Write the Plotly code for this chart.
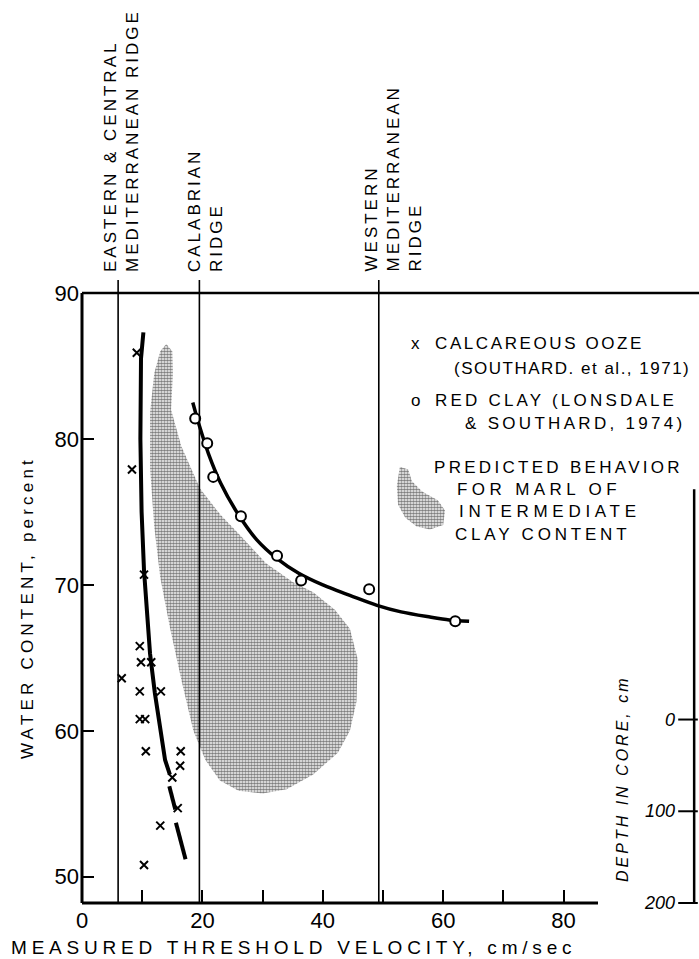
import plotly.graph_objects as go

# ---------------- data ----------------
ooze_x = [9.1, 8.3, 10.3, 9.6, 9.8, 11.5, 6.6, 9.6, 13.1, 9.6, 10.5, 10.6, 16.4, 16.3, 15.0, 15.9, 13.0, 10.3]
ooze_y = [85.9, 77.9, 70.7, 65.8, 64.7, 64.7, 63.6, 62.7, 62.7, 60.8, 60.8, 58.6, 58.6, 57.6, 56.8, 54.7, 53.5, 50.8]

ooze_curve_x = [10.2, 9.8, 9.7, 9.9, 10.3, 10.8, 11.3, 12.1, 13.0, 13.8, 14.6, None, 14.5, 15.1, 15.5, None, 15.6, 16.6, 17.2]
ooze_curve_y = [87.3, 85.5, 80, 75, 71, 68.3, 65.3, 62.6, 60.3, 58.0, 57.0, None, 56.2, 55.3, 54.6, None, 53.7, 52.0, 51.2]

clay_x = [18.8, 20.8, 21.8, 26.4, 32.4, 36.4, 47.7, 62.0]
clay_y = [81.4, 79.7, 77.4, 74.7, 72.0, 70.3, 69.7, 67.5]

clay_curve_x = [18.4, 19.5, 21.0, 23.0, 26.0, 29.0, 32.4, 36.0, 40.0, 45.0, 49.0, 53.0, 57.8, 61.0, 64.3]
clay_curve_y = [82.5, 80.9, 79.0, 77.0, 74.8, 73.1, 71.8, 70.8, 70.0, 69.2, 68.6, 68.15, 67.8, 67.6, 67.5]

marl_x = [14.0, 15.0, 15.1, 14.8, 16.5, 19.6, 23.0, 26.5, 30.5, 35.0, 38.4, 42.0, 44.5, 45.8, 45.6, 44.5,
          42.5, 38.4, 34.0, 30.0, 26.0, 22.9, 20.5, 18.5, 16.5, 14.6, 13.0, 12.0, 11.3, 11.3, 12.0, 13.0]
marl_y = [86.5, 86.0, 84.5, 82.0, 79.5, 76.6, 74.8, 73.3, 71.5, 70.2, 69.5, 68.3, 67.0, 64.9, 62.0, 60.0,
          58.5, 57.0, 56.0, 55.7, 55.9, 56.6, 58.0, 60.0, 63.5, 67.1, 70.5, 74.0, 78.0, 81.8, 84.5, 86.0]

marl_icon_x = [52.8, 54.2, 54.8, 56.5, 59.1, 60.3, 60.0, 57.8, 55.6, 53.7, 52.5, 52.3]
marl_icon_y = [78.1, 77.9, 77.1, 76.4, 75.8, 75.1, 74.1, 73.8, 74.0, 74.6, 75.5, 76.8]

ridge_x = [6.0, 19.5, 49.3]
ridge_labels = ["EASTERN &amp; CENTRAL<br>MEDITERRANEAN RIDGE", "CALABRIAN<br>RIDGE",
                "WESTERN<br>MEDITERRANEAN<br>RIDGE"]

x_ticks = [0, 10, 20, 30, 40, 50, 60, 70, 80]
x_ticktext = ["0", "", "20", "", "40", "", "60", "", "80"]
y_ticks = [50, 60, 70, 80, 90]
depth_ticks = [0, 100, 200]
depth_ticktext = ["0", "100", "200"]

# ---------------- layout geometry ----------------
W, H = 699, 959
L, R, T, B = 82, 3, 293, 56
PW = W - L - R
PH = H - T - B
XMAX = PW / 6.02
YMIN, YMAX = 48.2, 90.0
DEPTH_RANGE = [200, -465]

def px2x(px):
    return (px - L) / 6.02

def px2p(px):
    return (px - L) / PW

def py2p(py):
    return (H - B - py) / PH

FONT = "Liberation Sans"
def spaced(t, ls=3):
    return f'<span style="letter-spacing:{ls}px">{t}</span>'

PATTERN = dict(shape=".", size=3, solidity=0.62, fgcolor="black", bgcolor="white")

fig = go.Figure()

fig.add_trace(go.Scatter(x=marl_x, y=marl_y, fill="toself", mode="lines",
                         line=dict(width=0, color="rgba(0,0,0,0)"), fillcolor="rgba(0,0,0,0)",
                         fillpattern=PATTERN, hoverinfo="skip", showlegend=False))
fig.add_trace(go.Scatter(x=marl_icon_x, y=marl_icon_y, fill="toself", mode="lines",
                         line=dict(width=0, color="rgba(0,0,0,0)"), fillcolor="rgba(0,0,0,0)",
                         fillpattern=PATTERN, hoverinfo="skip", showlegend=False))

fig.add_trace(go.Scatter(x=ooze_curve_x, y=ooze_curve_y, mode="lines",
                         line=dict(color="black", width=4), showlegend=False))
fig.add_trace(go.Scatter(x=clay_curve_x, y=clay_curve_y, mode="lines",
                         line=dict(color="black", width=3.5, shape="spline", smoothing=0.8), showlegend=False))
fig.add_trace(go.Scatter(x=ooze_x, y=ooze_y, mode="markers",
                         marker=dict(symbol="x-thin", size=8, line=dict(color="black", width=2)),
                         showlegend=False))
fig.add_trace(go.Scatter(x=clay_x, y=clay_y, mode="markers",
                         marker=dict(symbol="circle", size=10, color="white", line=dict(color="black", width=2)),
                         showlegend=False))
# depth-in-core tick marks, placed through the depth axis scale
fig.add_trace(go.Scatter(x=[px2x(688)] * len(depth_ticks), y=depth_ticks, yaxis="y2", mode="markers",
                         marker=dict(symbol="line-ew", size=14, line=dict(color="black", width=2)),
                         cliponaxis=False, hoverinfo="skip", showlegend=False))

shapes = []
for rx in ridge_x:
    shapes.append(dict(type="line", xref="x", yref="paper", x0=rx, x1=rx, y0=0, y1=1 + 13 / PH,
                       line=dict(color="black", width=1.6)))
shapes.append(dict(type="line", xref="paper", yref="paper", x0=0, x1=1.02, y0=1, y1=1,
                   line=dict(color="black", width=2.5)))
shapes.append(dict(type="line", xref="paper", yref="paper", x0=0, x1=0, y0=0, y1=1,
                   line=dict(color="black", width=3)))
shapes.append(dict(type="line", xref="x", yref="paper", x0=0, x1=px2x(598), y0=0, y1=0,
                   line=dict(color="black", width=3)))
shapes.append(dict(type="line", xref="paper", yref="y2", x0=0.997, x1=0.997, y0=-251, y1=DEPTH_RANGE[0],
                   line=dict(color="black", width=2.5)))

ann = []
ridge_label_px = [99, 183, 360]
for lab, lx in zip(ridge_labels, ridge_label_px):
    ann.append(dict(text=spaced(lab, 3.0), xref="paper", yref="paper", x=px2p(lx), y=py2p(274),
                    xanchor="left", yanchor="bottom", textangle=-90, align="left", showarrow=False,
                    font=dict(family=FONT, size=17, color="black")))

# (text, x px, y px, anchor, letter spacing)
legend_lines = [
    ("x", 415, 343, "center", 0),
    ("CALCAREOUS OOZE", 433, 343, "left", 2.6),
    ("(SOUTHARD. et al., 1971)", 452, 368, "left", 1.5),
    ("o", 415, 400, "center", 0),
    ("RED CLAY (LONSDALE", 433, 400, "left", 3.2),
    ("&amp; SOUTHARD, 1974)", 463, 423, "left", 3.3),
    ("PREDICTED BEHAVIOR", 432, 467, "left", 3.3),
    ("FOR MARL OF", 455, 489, "left", 4.4),
    ("INTERMEDIATE", 457, 511, "left", 4.7),
    ("CLAY CONTENT", 453, 534, "left", 3.8),
]
for t, lx, ly, anc, ls in legend_lines:
    ann.append(dict(text=spaced(t, ls) if ls else t, xref="paper", yref="paper",
                    x=px2p(lx), y=py2p(ly), xanchor=anc, yanchor="middle", showarrow=False,
                    font=dict(family=FONT, size=17, color="black")))

for v, t in zip(depth_ticks, depth_ticktext):
    ann.append(dict(text=t, xref="paper", yref="y2", x=px2p(677), y=v, xanchor="right", yanchor="middle",
                    showarrow=False, font=dict(family=FONT, size=18, color="black", style="italic")))

ann.append(dict(text=spaced("MEASURED THRESHOLD VELOCITY, cm/sec", 4.8), xref="paper", yref="paper",
                x=px2p(293), y=py2p(947), xanchor="center", yanchor="middle",
                showarrow=False, font=dict(family=FONT, size=19, color="black")))
ann.append(dict(text=spaced("WATER CONTENT, percent", 4.2), xref="paper", yref="paper",
                x=px2p(27), y=py2p(608), xanchor="center", yanchor="middle",
                textangle=-90, showarrow=False, font=dict(family=FONT, size=17, color="black")))
ann.append(dict(text=spaced("DEPTH IN CORE, cm", 3), xref="paper", yref="paper",
                x=px2p(622), y=py2p(779), xanchor="center", yanchor="middle",
                textangle=-90, showarrow=False,
                font=dict(family=FONT, size=16, color="black", style="italic")))

fig.update_layout(
    width=W, height=H,
    margin=dict(l=L, r=R, t=T, b=B),
    paper_bgcolor="white", plot_bgcolor="white",
    shapes=shapes, annotations=ann,
    xaxis=dict(range=[0, XMAX], tickvals=x_ticks, ticktext=x_ticktext, ticks="inside", ticklen=13,
               tickwidth=2, tickcolor="black", showgrid=False, zeroline=False, showline=False,
               tickfont=dict(family=FONT, size=22, color="black"), ticklabelstandoff=2),
    yaxis=dict(range=[YMIN, YMAX], tickvals=y_ticks, ticks="inside", ticklen=12, tickwidth=2,
               tickcolor="black", showgrid=False, zeroline=False, showline=False,
               tickfont=dict(family=FONT, size=22, color="black"), ticklabelstandoff=2),
    yaxis2=dict(overlaying="y", side="right", range=DEPTH_RANGE, ticks="", showticklabels=False,
                showgrid=False, zeroline=False, showline=False),
    showlegend=False,
)

fig.write_html("out.html", config={"displayModeBar": False},
               post_script="document.body.style.margin='0';document.body.style.overflow='hidden';")
